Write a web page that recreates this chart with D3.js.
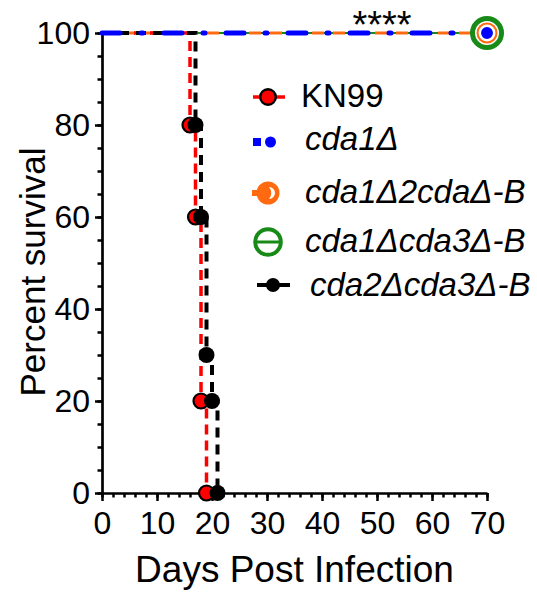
<!DOCTYPE html>
<html>
<head>
<meta charset="utf-8">
<script src="https://cdn.jsdelivr.net/npm/d3@7"></script>
<style>
  body { margin: 0; background: #fff; }
  #chart text { font-family: "Liberation Sans", Arial, sans-serif; fill: #000; }
</style>
</head>
<body>
<div id="chart"></div>
<script>
"use strict";

// survival data (day, percent)
const kn99Days = [0, 16, 17, 18, 19];
const kn99Survival = [100, 80, 60, 20, 0];
const cda1Days = [0, 70];
const cda1Survival = [100, 100];
const cda1cda2Days = [0, 70];
const cda1cda2Survival = [100, 100];
const cda1cda3Days = [0, 70];
const cda1cda3Survival = [100, 100];
const cda2cda3Days = [0, 17, 18, 19, 20, 21];
const cda2cda3Survival = [100, 80, 60, 30, 20, 0];

const legendLabels = ["KN99", "cda1Δ", "cda1Δ2cdaΔ-B", "cda1Δcda3Δ-B", "cda2Δcda3Δ-B"];
const xTicks = [0, 10, 20, 30, 40, 50, 60, 70];
const yTicks = [0, 20, 40, 60, 80, 100];
const significance = "****";

const RED = "#ff0000";
const BLUE = "#0000ff";
const ORANGE = "#ff6a10";
const GREEN = "#178a17";

window.addEventListener("load", draw);

function toPoints(days, survival) {
  return days.map((d, i) => ({ day: d, pct: survival[i] }));
}

function draw() {
  const w = 537;
  const h = 596;

  const x = d3.scaleLinear().domain([0, 70]).range([102, 487]);
  const y = d3.scaleLinear().domain([0, 100]).range([493, 33]);

  const svg = d3
    .select("#chart")
    .append("svg")
    .attr("width", w)
    .attr("height", h);

  const line = d3
    .line()
    .x((p) => x(p.day))
    .y((p) => y(p.pct))
    .curve(d3.curveStepAfter);

  // minor ticks first, major on top
  svg
    .append("g")
    .attr("transform", `translate(0, ${y(0)})`)
    .call(
      d3.axisBottom(x)
        .tickValues(d3.range(0, 71, 2))
        .tickSize(4.5)
        .tickSizeOuter(0)
        .tickFormat("")
    )
    .call((g) => g.select(".domain").remove());

  svg
    .append("g")
    .attr("transform", `translate(${x(0)}, 0)`)
    .call(
      d3.axisLeft(y)
        .tickValues(d3.range(0, 101, 5))
        .tickSize(4.5)
        .tickSizeOuter(0)
        .tickFormat("")
    )
    .call((g) => g.select(".domain").remove());

  const xAxis = svg
    .append("g")
    .attr("transform", `translate(0, ${y(0)})`)
    .call(d3.axisBottom(x).tickValues(xTicks).tickSize(8).tickSizeOuter(0).tickPadding(10));

  const yAxis = svg
    .append("g")
    .attr("transform", `translate(${x(0)}, 0)`)
    .call(d3.axisLeft(y).tickValues(yTicks).tickSize(7).tickSizeOuter(0).tickPadding(5));

  svg.selectAll(".tick line").attr("stroke", "#000").attr("stroke-width", 2.5);
  svg.selectAll(".domain").attr("stroke", "#000").attr("stroke-width", 2.7);
  xAxis.selectAll("text").style("font-size", "32px");
  yAxis.selectAll("text").style("font-size", "32px");

  // axis titles
  svg
    .append("text")
    .text("Days Post Infection")
    .attr("x", (x(0) + x(70)) / 2)
    .attr("y", 582)
    .attr("text-anchor", "middle")
    .style("font-size", "37px");

  svg
    .append("text")
    .text("Percent survival")
    .attr("text-anchor", "middle")
    .attr("transform", "translate(45, 272) rotate(-90)")
    .style("font-size", "35px");

  // survival lines
  const series = [
    { pts: toPoints(cda1cda3Days, cda1cda3Survival), color: GREEN, width: 2, dash: null, cap: "butt" },
    { pts: toPoints(cda1cda2Days, cda1cda2Survival), color: ORANGE, width: 3, dash: "12,9", cap: "butt" },
    { pts: toPoints(kn99Days, kn99Survival), color: RED, width: 3.5, dash: "10,6", cap: "butt" },
    { pts: toPoints(cda2cda3Days, cda2cda3Survival), color: "#000", width: 4, dash: "10,7", cap: "butt" },
    { pts: toPoints(cda1Days, cda1Survival), color: BLUE, width: 5, dash: "18,21,2,21", cap: "round" },
  ];

  series.forEach((s) => {
    svg
      .append("path")
      .datum(s.pts)
      .attr("d", line)
      .attr("fill", "none")
      .attr("stroke", s.color)
      .attr("stroke-width", s.width)
      .attr("stroke-dasharray", s.dash)
      .attr("stroke-linecap", s.cap);
  });

  // KN99 markers
  svg
    .append("g")
    .selectAll("circle")
    .data(toPoints(kn99Days, kn99Survival).slice(1))
    .join("circle")
    .attr("cx", (p) => x(p.day))
    .attr("cy", (p) => y(p.pct))
    .attr("r", 7.5)
    .attr("fill", RED)
    .attr("stroke", "#000")
    .attr("stroke-width", 2.2);

  // cda2Δcda3Δ-B markers
  svg
    .append("g")
    .selectAll("circle")
    .data(toPoints(cda2cda3Days, cda2cda3Survival).slice(1))
    .join("circle")
    .attr("cx", (p) => x(p.day))
    .attr("cy", (p) => y(p.pct))
    .attr("r", 8)
    .attr("fill", "#000");

  // end markers at day 70
  const g3 = toPoints(cda1cda3Days, cda1cda3Survival).slice(-1);
  svg
    .selectAll(".m-green")
    .data(g3)
    .join("circle")
    .attr("cx", (p) => x(p.day))
    .attr("cy", (p) => y(p.pct))
    .attr("r", 14.5)
    .attr("fill", "#fff")
    .attr("stroke", GREEN)
    .attr("stroke-width", 5);

  const g2 = toPoints(cda1cda2Days, cda1cda2Survival).slice(-1);
  svg
    .selectAll(".m-orange")
    .data(g2)
    .join("circle")
    .attr("cx", (p) => x(p.day))
    .attr("cy", (p) => y(p.pct))
    .attr("r", 10.5)
    .attr("fill", ORANGE);

  const g1 = toPoints(cda1Days, cda1Survival).slice(-1);
  svg
    .selectAll(".m-blue")
    .data(g1)
    .join("circle")
    .attr("cx", (p) => x(p.day))
    .attr("cy", (p) => y(p.pct))
    .attr("r", 7.2)
    .attr("fill", BLUE)
    .attr("stroke", "#fff")
    .attr("stroke-width", 2.5);

  // significance stars
  svg
    .append("text")
    .text(significance)
    .attr("x", 382)
    .attr("y", 38)
    .attr("text-anchor", "middle")
    .style("font-size", "38px");

  drawLegend(svg);
}

function drawLegend(svg) {
  const rows = [
    { cy: 97, base: 107, tx: 301, italic: false },
    { cy: 142, base: 150, tx: 305, italic: true },
    { cy: 193, base: 203, tx: 305, italic: true },
    { cy: 242, base: 252, tx: 305, italic: true },
    { cy: 285, base: 296, tx: 310, italic: true },
  ];

  const legend = svg.append("g").attr("id", "legend");

  legend
    .selectAll("text")
    .data(legendLabels)
    .join("text")
    .text((d) => d)
    .attr("x", (d, i) => rows[i].tx)
    .attr("y", (d, i) => rows[i].base)
    .style("font-size", "33px")
    .style("font-style", (d, i) => (rows[i].italic ? "italic" : "normal"));

  // KN99
  let r = rows[0];
  legend.append("line")
    .attr("x1", 253).attr("x2", 285).attr("y1", r.cy).attr("y2", r.cy)
    .attr("stroke", RED).attr("stroke-width", 3.5);
  legend.append("circle")
    .attr("cx", 268).attr("cy", r.cy).attr("r", 7.8)
    .attr("fill", RED).attr("stroke", "#000").attr("stroke-width", 2.4);

  // cda1Δ
  r = rows[1];
  legend.append("rect")
    .attr("x", 253).attr("y", r.cy - 4).attr("width", 8).attr("height", 8)
    .attr("fill", BLUE);
  legend.append("circle")
    .attr("cx", 270.5).attr("cy", r.cy).attr("r", 5.5)
    .attr("fill", BLUE);

  // cda1Δ2cdaΔ-B
  r = rows[2];
  legend.append("line")
    .attr("x1", 252).attr("x2", 266).attr("y1", r.cy).attr("y2", r.cy)
    .attr("stroke", ORANGE).attr("stroke-width", 6);
  legend.append("circle")
    .attr("cx", 268).attr("cy", r.cy).attr("r", 11.5)
    .attr("fill", ORANGE);
  legend.append("path")
    .attr("transform", `translate(268, ${r.cy})`)
    .attr("d", "M1,-6 A6,6 0 0 1 1,6 A9,9 0 0 0 1,-6 Z")
    .attr("fill", "#fff");

  // cda1Δcda3Δ-B
  r = rows[3];
  legend.append("circle")
    .attr("cx", 268).attr("cy", r.cy).attr("r", 12.8)
    .attr("fill", "none").attr("stroke", GREEN).attr("stroke-width", 4);
  legend.append("line")
    .attr("x1", 255).attr("x2", 281).attr("y1", r.cy).attr("y2", r.cy)
    .attr("stroke", GREEN).attr("stroke-width", 3);

  // cda2Δcda3Δ-B
  r = rows[4];
  legend.append("line")
    .attr("x1", 257).attr("x2", 290).attr("y1", r.cy).attr("y2", r.cy)
    .attr("stroke", "#000").attr("stroke-width", 4);
  legend.append("circle")
    .attr("cx", 273).attr("cy", r.cy).attr("r", 7)
    .attr("fill", "#000");
}
</script>
</body>
</html>
